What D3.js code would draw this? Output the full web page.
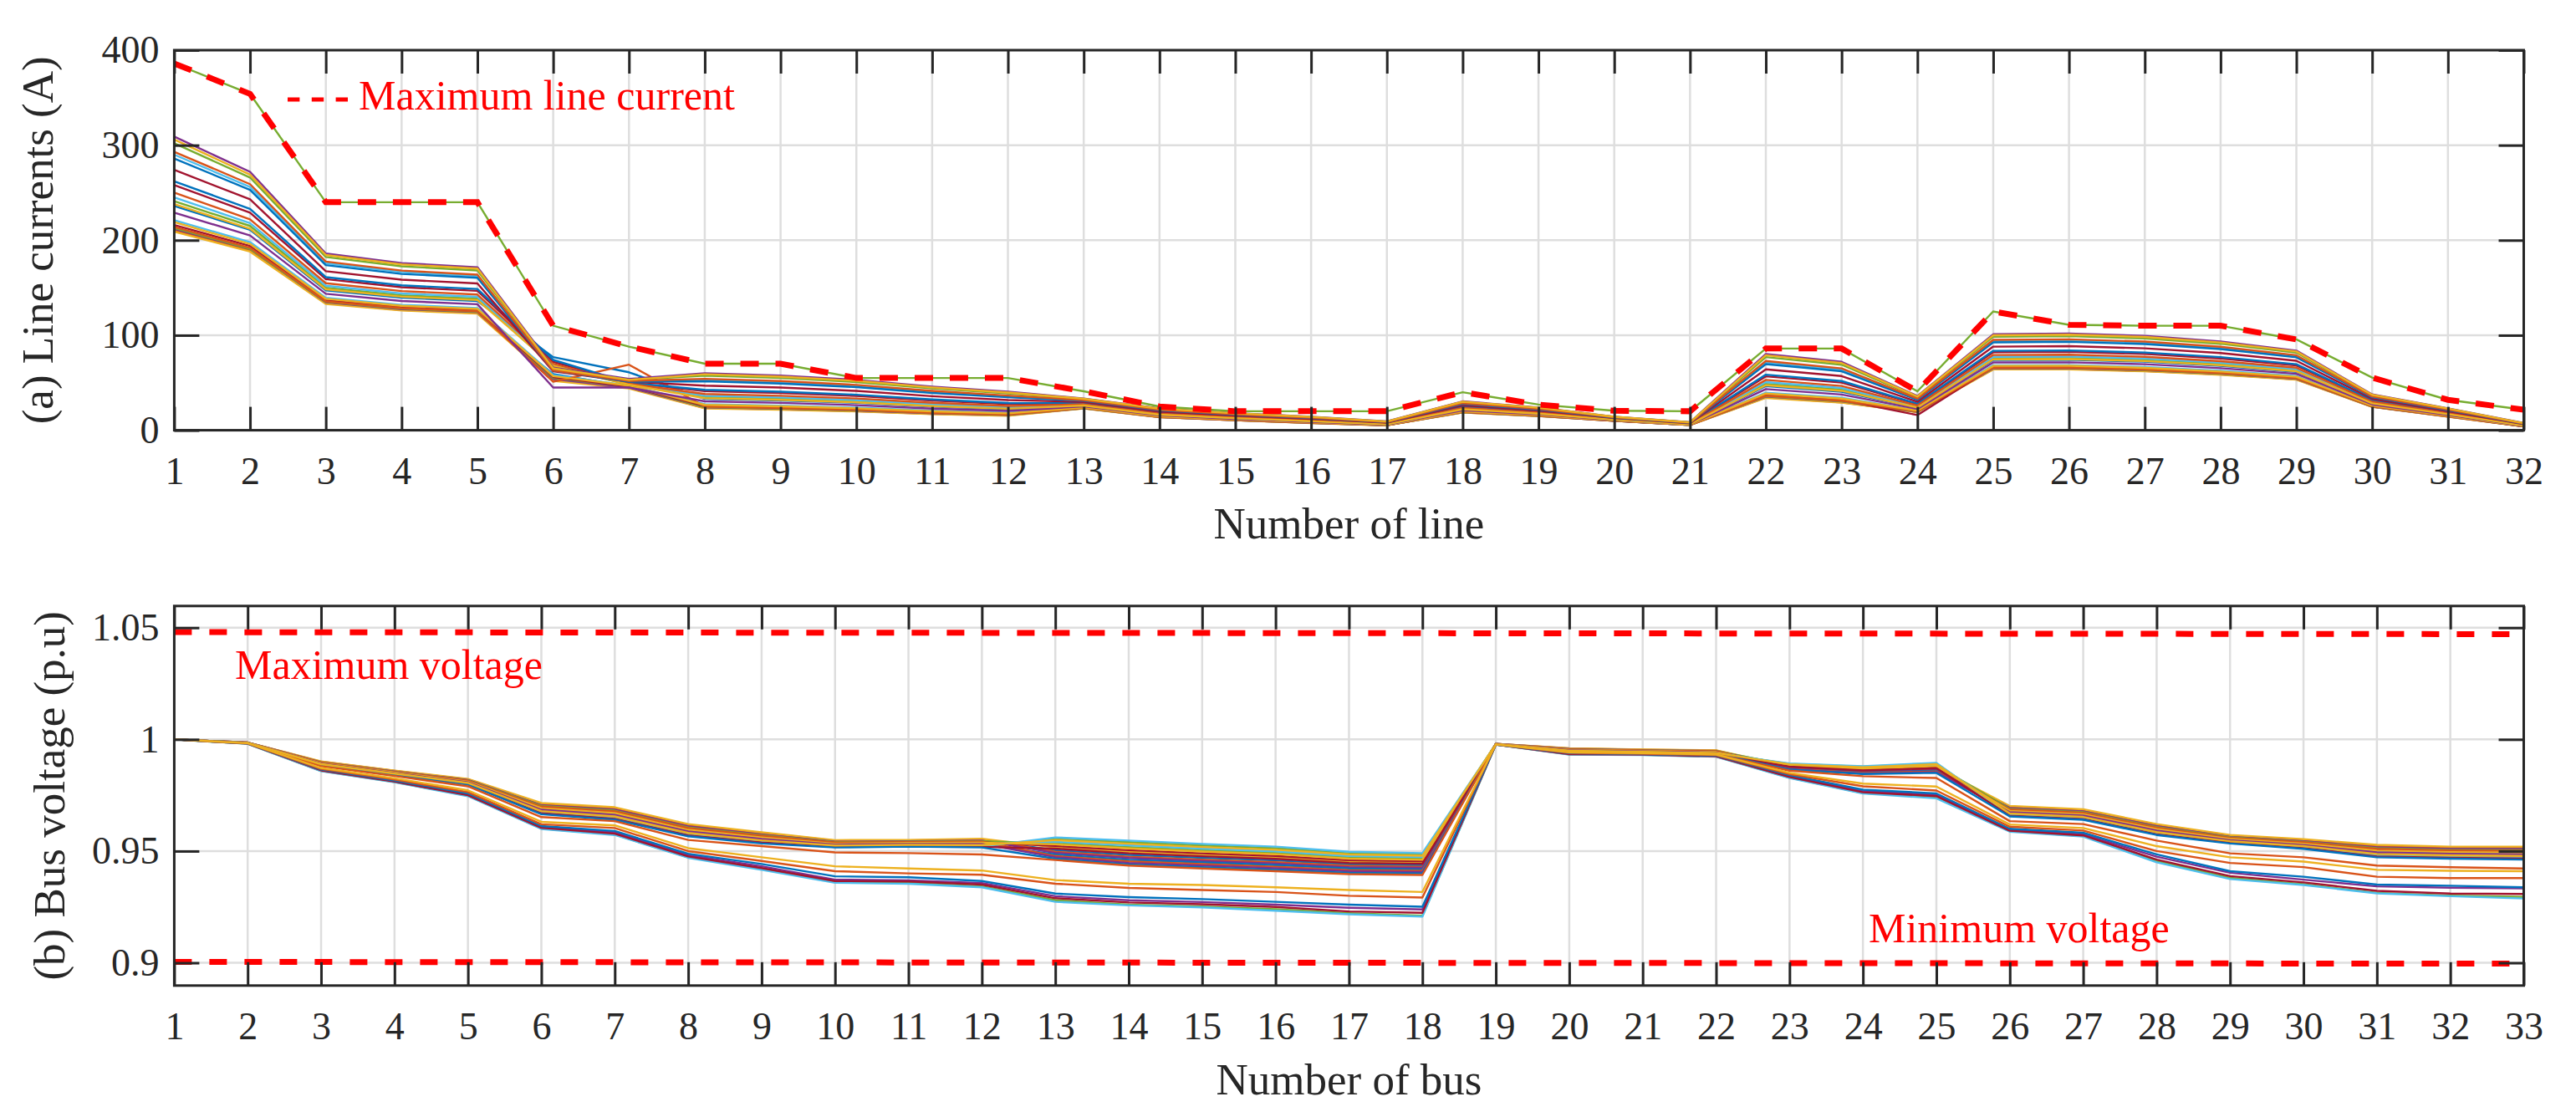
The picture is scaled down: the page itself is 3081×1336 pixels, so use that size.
<!DOCTYPE html>
<html>
<head>
<meta charset="utf-8">
<script src="https://cdn.jsdelivr.net/npm/d3@7"></script>
<style>
  body { margin: 0; background: #fff; }
  svg text { font-family: "Liberation Serif", "Times New Roman", serif; }
</style>
</head>
<body>
<div id="chart"></div>
<script>
/* line currents and bus voltages, 24 load cases */

// categories and ticks
var lineNumbers = d3.range(1, 33);
var busNumbers = d3.range(1, 34);
var currentTicks = [0, 100, 200, 300, 400];
var voltageTicks = [0.9, 0.95, 1, 1.05];

// MATLAB default colour order
var seriesColors = ["#0072BD", "#D95319", "#EDB120", "#7E2F8E", "#77AC30", "#4DBEEE", "#A2142F"];

// line currents (A), one row per load case
var currentSeries = [
  [211,190,134.1,127,123.8,59,46,23.7,22.3,20.5,17.6,15.8,23.2,13.9,10.6,7.7,5.3,18.9,15.1,10,5.6,34.9,29.9,19.3,64.7,64.8,62.7,59,53.9,24.9,14.5,4.1],
  [210,189,133.5,126.5,123.3,53,45,23.4,22,20.1,17.3,15.6,23.1,13.8,10.6,7.7,5.2,18.8,15,9.9,5.5,34.5,29.4,19.2,64.4,64.4,62.4,58.7,53.6,24.7,14.4,4],
  [209,188,133,126,122.8,52,44,23,21.6,19.8,17,15.3,23,13.7,10.5,7.6,5.2,18.7,14.9,9.9,5.5,34,29,19,64,64,62,58.3,53.3,24.6,14.3,4],
  [212,191,134.6,127.5,124.3,54,45,24.1,22.7,20.8,17.9,16.1,23.3,14,10.7,7.8,5.3,19.1,15.2,10,5.6,35.4,30.3,19.5,65.1,65.1,63.1,59.4,54.2,25,14.6,4.1],
  [213,191,135.1,128,124.8,55,46,24.5,23,21.1,18.2,16.3,23.4,14.1,10.8,7.9,5.4,19.2,15.3,10.1,5.6,35.9,30.7,19.7,65.5,65.5,63.5,59.7,54.5,25.1,14.7,4.2],
  [221,198,139.4,132,128.7,58,47,27.4,25.9,23.8,20.5,18.3,24.2,14.8,11.4,8.4,5.7,20.1,16,10.4,5.8,39.6,34.2,21,68.4,68.5,66.5,62.5,57,26.2,15.4,4.4],
  [216,194,136.7,129.5,126.2,56,46,25.6,24.1,22.1,19,17.1,23.7,14.4,11,8.1,5.5,19.5,15.5,10.2,5.7,37.2,32,16,66.6,66.6,64.6,60.8,55.4,25.5,14.9,4.3],
  [236,211,147.3,139.5,136,77,61,33,31.3,28.8,24.8,22.1,25.8,16.2,12.5,9.4,6.3,21.9,17.4,11.1,6.3,46.5,40.6,23.6,74,74.2,72.1,67.8,61.5,28.1,16.7,5],
  [214,192,135.6,128.5,125.2,51,69,24.9,23.4,21.5,18.4,16.6,23.5,14.2,10.9,7.9,5.4,19.3,15.4,10.1,5.6,36.3,31.1,19.8,65.9,65.9,63.9,60.1,54.8,25.3,14.7,4.2],
  [219,196,138.3,131,127.7,57,47,26.7,25.2,23.1,19.9,17.8,24,14.6,11.2,8.3,5.6,19.9,15.8,10.3,5.8,38.6,33.3,20.7,67.7,67.8,65.7,61.8,56.3,25.9,15.2,4.4],
  [229,205,143.6,136,132.6,45,45,30.4,28.8,26.4,22.8,20.3,25.1,15.6,12,8.9,6,21,16.7,10.8,6.1,43.3,37.6,22.4,71.4,71.5,69.5,65.3,59.4,27.2,16.1,4.7],
  [241,215,150,142,138.4,67,48,34.8,33.1,30.4,26.3,23.4,26.3,16.7,12.9,9.7,6.5,22.4,17.8,11.3,6.4,48.8,42.8,24.4,75.8,76.1,73.9,69.6,63.1,28.8,17.1,5.2],
  [245,218,152.1,144,140.4,69,49,36.3,34.5,31.8,27.4,24.4,26.7,17,13.2,10,6.7,22.9,18.2,11.5,6.5,50.7,44.5,25.1,77.3,77.6,75.4,71,64.3,29.3,17.5,5.3],
  [258,229,159,150.5,146.7,72,50,41.1,39.2,36.1,31.2,27.6,28.1,18.3,14.2,10.9,7.2,24.4,19.4,12.1,6.9,56.7,50.1,27.3,82.1,82.5,80.3,75.5,68.2,31,18.6,5.8],
  [262,233,161.1,152.5,148.7,74,50,42.6,40.6,37.4,32.4,28.7,28.5,18.6,14.5,11.2,7.4,24.9,19.7,12.2,7,58.5,51.8,28,83.6,84,81.8,77,69.5,31.5,19,5.9],
  [250,222,154.7,146.5,142.8,70,49,38.2,36.3,33.4,28.9,25.6,27.3,17.5,13.6,10.3,6.9,23.5,18.6,11.7,6.7,53,46.6,26,79.2,79.5,77.3,72.7,65.8,30,17.9,5.5],
  [238,212,148.4,140.5,137,68,48,33.7,32,29.4,25.4,22.6,26,16.4,12.7,9.5,6.4,22.1,17.5,11.2,6.3,47.4,41.5,23.9,74.7,74.9,72.8,68.5,62.1,28.4,16.9,5],
  [309,272,186,176,171.6,66,54,60,57.5,53,46,40.5,33.4,23,18,14.3,9.3,30.4,24,14.3,8.4,80.3,72,36,101,101.7,99.3,93.5,83.8,37.7,23.1,7.6],
  [302,266,182.3,172.5,168.2,65,53,57.4,55,50.7,44,38.7,32.7,22.3,17.5,13.8,9,29.6,23.4,14,8.2,77,69,34.8,98.4,99.1,96.7,91,81.7,36.8,22.5,7.3],
  [290,256,175.9,166.5,162.3,64,52,53,50.7,46.7,40.5,35.7,31.4,21.2,16.6,13,8.5,28.2,22.3,13.5,7.8,71.5,63.8,32.8,94,94.5,92.2,86.8,78,35.2,21.4,6.9],
  [274,243,167.4,158.5,154.5,62,51,47,44.9,41.4,35.8,31.7,29.8,19.7,15.4,12,7.9,26.3,20.8,12.8,7.4,64.1,57,30,88,88.5,86.2,81.2,73.1,33.1,20,6.3],
  [286,253,173.8,164.5,160.4,63,51,51.5,49.2,45.4,39.3,34.7,31,20.9,16.3,12.8,8.4,27.7,21.9,13.3,7.7,69.6,62.1,32.1,92.5,93,90.7,85.4,76.8,34.7,21.1,6.8],
  [293,259,177.5,168,163.8,63,52,54.1,51.8,47.7,41.4,36.5,31.7,21.5,16.8,13.2,8.6,28.5,22.5,13.6,7.9,72.9,65.1,33.3,95.1,95.7,93.3,87.9,78.9,35.6,21.7,7],
  [306,269,184.4,174.5,170.1,65,53,58.9,56.4,52,45.1,39.7,33.1,22.7,17.8,14.1,9.2,30,23.7,14.2,8.3,78.9,70.7,35.5,99.9,100.6,98.2,92.4,82.9,37.3,22.8,7.5]
];

// maximum line current (A)
var maxLineCurrent = [386,354,240,240,240,110,88,70,70,55,55,55,41,25,20,20,20,40,27,20.5,20,86,86,41,125,111,110,110,95.6,55.4,32,21.6];

// bus voltages (p.u), same load cases
var voltageSeries = [
  [1,0.9986,0.9899,0.9858,0.9820,0.9709,0.9689,0.9614,0.9578,0.9545,0.9546,0.9550,0.9504,0.9483,0.9470,0.9458,0.9441,0.9436,0.9980,0.9958,0.9953,0.9949,0.9876,0.9859,0.9868,0.9696,0.9681,0.9615,0.9567,0.9547,0.9521,0.9513,0.9512],
  [1,0.9986,0.9900,0.9859,0.9821,0.9712,0.9692,0.9617,0.9581,0.9547,0.9548,0.9552,0.9497,0.9475,0.9462,0.9450,0.9434,0.9430,0.9980,0.9959,0.9954,0.9950,0.9874,0.9857,0.9865,0.9699,0.9684,0.9618,0.9569,0.9550,0.9524,0.9516,0.9516],
  [1,0.9986,0.9901,0.9860,0.9823,0.9715,0.9696,0.9621,0.9584,0.9549,0.9550,0.9555,0.9516,0.9497,0.9483,0.9471,0.9453,0.9448,0.9980,0.9960,0.9955,0.9951,0.9879,0.9864,0.9874,0.9702,0.9687,0.9621,0.9572,0.9553,0.9528,0.9520,0.9520],
  [1,0.9986,0.9898,0.9856,0.9818,0.9705,0.9685,0.9610,0.9574,0.9542,0.9544,0.9547,0.9492,0.9469,0.9456,0.9444,0.9428,0.9425,0.9980,0.9957,0.9952,0.9948,0.9872,0.9854,0.9862,0.9693,0.9678,0.9611,0.9564,0.9544,0.9517,0.9509,0.9508],
  [1,0.9985,0.9897,0.9855,0.9816,0.9702,0.9681,0.9606,0.9571,0.9540,0.9542,0.9544,0.9535,0.9518,0.9504,0.9492,0.9472,0.9466,0.9979,0.9956,0.9951,0.9947,0.9885,0.9871,0.9883,0.9689,0.9674,0.9608,0.9562,0.9541,0.9513,0.9505,0.9504],
  [1,0.9985,0.9893,0.9850,0.9810,0.9689,0.9666,0.9592,0.9558,0.9532,0.9534,0.9534,0.9542,0.9526,0.9511,0.9499,0.9478,0.9473,0.9979,0.9952,0.9947,0.9943,0.9887,0.9873,0.9886,0.9677,0.9662,0.9595,0.9552,0.9530,0.9498,0.9491,0.9489],
  [1,0.9985,0.9895,0.9853,0.9813,0.9695,0.9674,0.9599,0.9564,0.9536,0.9538,0.9539,0.9523,0.9504,0.9490,0.9478,0.9459,0.9455,0.9979,0.9954,0.9949,0.9945,0.9881,0.9866,0.9877,0.9683,0.9668,0.9601,0.9557,0.9536,0.9506,0.9498,0.9497],
  [1,0.9985,0.9890,0.9848,0.9806,0.9682,0.9658,0.9584,0.9551,0.9527,0.9530,0.9529,0.9485,0.9461,0.9449,0.9437,0.9422,0.9418,0.9979,0.9950,0.9945,0.9940,0.9870,0.9852,0.9859,0.9671,0.9656,0.9588,0.9547,0.9524,0.9490,0.9484,0.9481],
  [1,0.9985,0.9896,0.9854,0.9815,0.9699,0.9678,0.9603,0.9568,0.9538,0.9540,0.9542,0.9478,0.9454,0.9442,0.9430,0.9415,0.9412,0.9979,0.9955,0.9950,0.9946,0.9869,0.9850,0.9856,0.9686,0.9671,0.9605,0.9559,0.9539,0.9510,0.9502,0.9501],
  [1,0.9985,0.9893,0.9852,0.9811,0.9692,0.9670,0.9595,0.9561,0.9533,0.9536,0.9537,0.9530,0.9512,0.9498,0.9486,0.9466,0.9461,0.9979,0.9953,0.9948,0.9943,0.9883,0.9868,0.9880,0.9680,0.9665,0.9598,0.9554,0.9533,0.9502,0.9495,0.9493],
  [1,0.9985,0.9891,0.9849,0.9808,0.9685,0.9662,0.9588,0.9554,0.9529,0.9532,0.9532,0.9473,0.9447,0.9435,0.9423,0.9410,0.9406,0.9979,0.9951,0.9946,0.9941,0.9867,0.9847,0.9853,0.9674,0.9659,0.9592,0.9549,0.9527,0.9494,0.9488,0.9485],
  [1,0.9984,0.9888,0.9846,0.9803,0.9675,0.9651,0.9577,0.9544,0.9523,0.9526,0.9524,0.9554,0.9540,0.9525,0.9513,0.9490,0.9485,0.9978,0.9948,0.9943,0.9938,0.9890,0.9878,0.9892,0.9664,0.9649,0.9582,0.9542,0.9519,0.9483,0.9477,0.9474],
  [1,0.9984,0.9887,0.9844,0.9801,0.9672,0.9647,0.9573,0.9541,0.9520,0.9524,0.9521,0.9561,0.9547,0.9532,0.9520,0.9497,0.9491,0.9978,0.9947,0.9942,0.9937,0.9892,0.9880,0.9895,0.9661,0.9646,0.9578,0.9539,0.9516,0.9479,0.9473,0.9470],
  [1,0.9984,0.9886,0.9843,0.9800,0.9669,0.9644,0.9570,0.9538,0.9518,0.9522,0.9519,0.9511,0.9490,0.9477,0.9465,0.9447,0.9443,0.9978,0.9946,0.9941,0.9936,0.9878,0.9861,0.9871,0.9658,0.9643,0.9575,0.9537,0.9513,0.9476,0.9470,0.9466],
  [1,0.9984,0.9885,0.9842,0.9798,0.9665,0.9640,0.9566,0.9534,0.9516,0.9520,0.9516,0.9466,0.9440,0.9428,0.9416,0.9403,0.9400,0.9978,0.9945,0.9940,0.9935,0.9865,0.9845,0.9850,0.9655,0.9640,0.9572,0.9534,0.9510,0.9472,0.9466,0.9462],
  [1,0.9983,0.9880,0.9836,0.9790,0.9652,0.9634,0.9550,0.9522,0.9494,0.9491,0.9485,0.9460,0.9435,0.9422,0.9410,0.9397,0.9393,0.9978,0.9943,0.9939,0.9933,0.9860,0.9835,0.9827,0.9634,0.9621,0.9547,0.9490,0.9472,0.9435,0.9428,0.9422],
  [1,0.9985,0.9889,0.9847,0.9805,0.9679,0.9655,0.9581,0.9548,0.9525,0.9528,0.9527,0.9549,0.9533,0.9518,0.9506,0.9485,0.9479,0.9979,0.9949,0.9944,0.9939,0.9888,0.9875,0.9889,0.9668,0.9653,0.9585,0.9544,0.9522,0.9487,0.9481,0.9478],
  [1,0.9981,0.9863,0.9813,0.9754,0.9608,0.9584,0.9482,0.9432,0.9372,0.9369,0.9357,0.9298,0.9280,0.9272,0.9260,0.9246,0.9239,0.9977,0.9936,0.9933,0.9926,0.9836,0.9768,0.9752,0.9595,0.9575,0.9475,0.9403,0.9372,0.9342,0.9336,0.9333],
  [1,0.9980,0.9859,0.9809,0.9748,0.9601,0.9574,0.9472,0.9419,0.9362,0.9358,0.9342,0.9280,0.9260,0.9252,0.9240,0.9222,0.9211,0.9977,0.9933,0.9931,0.9923,0.9829,0.9760,0.9740,0.9589,0.9567,0.9456,0.9380,0.9352,0.9313,0.9301,0.9295],
  [1,0.9980,0.9858,0.9808,0.9746,0.9599,0.9572,0.9470,0.9416,0.9358,0.9354,0.9338,0.9273,0.9257,0.9248,0.9233,0.9217,0.9207,0.9977,0.9932,0.9930,0.9922,0.9827,0.9758,0.9736,0.9587,0.9565,0.9450,0.9375,0.9348,0.9311,0.9298,0.9288],
  [1,0.9981,0.9861,0.9811,0.9750,0.9604,0.9578,0.9476,0.9424,0.9366,0.9364,0.9350,0.9289,0.9270,0.9262,0.9250,0.9230,0.9224,0.9977,0.9934,0.9932,0.9924,0.9832,0.9763,0.9746,0.9591,0.9570,0.9462,0.9388,0.9360,0.9322,0.9310,0.9308],
  [1,0.9982,0.9865,0.9816,0.9758,0.9612,0.9590,0.9488,0.9442,0.9387,0.9383,0.9366,0.9310,0.9294,0.9285,0.9273,0.9260,0.9251,0.9977,0.9938,0.9934,0.9928,0.9840,0.9775,0.9758,0.9600,0.9582,0.9485,0.9410,0.9385,0.9350,0.9345,0.9338],
  [1,0.9982,0.9868,0.9820,0.9764,0.9620,0.9603,0.9500,0.9456,0.9410,0.9400,0.9394,0.9354,0.9335,0.9326,0.9317,0.9300,0.9292,0.9978,0.9940,0.9936,0.9930,0.9845,0.9790,0.9771,0.9609,0.9592,0.9500,0.9447,0.9428,0.9385,0.9379,0.9379],
  [1,0.9983,0.9872,0.9826,0.9772,0.9631,0.9615,0.9513,0.9472,0.9432,0.9422,0.9413,0.9370,0.9354,0.9348,0.9338,0.9326,0.9317,0.9978,0.9942,0.9938,0.9932,0.9850,0.9802,0.9789,0.9619,0.9603,0.9522,0.9472,0.9453,0.9416,0.9412,0.9410]
];

// voltage limits (p.u) at first and last bus
var limitBuses = [1, 33];
var maxVoltage = [1.048, 1.0471];
var minVoltage = [0.9004, 0.8996];

// LAYOUT
var width = 3081, height = 1336;
var plotLeft = 208.4, plotRight = 3018.5;
var top1 = 60, bottom1 = 514.6;
var top2 = 724.8, bottom2 = 1178.8;
var axisColor = "#262626";

var svg = d3.select("#chart").append("svg")
    .attr("width", width)
    .attr("height", height)
    .style("background", "#fff");

var x1 = d3.scaleLinear().domain([1, 32]).range([plotLeft, plotRight]);
var y1 = d3.scaleLinear().domain([0, 400]).range([bottom1, top1]);
var x2 = d3.scaleLinear().domain([1, 33]).range([plotLeft, plotRight]);
var y2 = d3.scaleLinear().domain([0.8898, 1.0597]).range([bottom2, top2]);

function drawGrid(g, x, y, xTicks, yTicks, top, bottom) {
  g.selectAll(".vgrid").data(xTicks).enter().append("line")
    .attr("x1", function (d) { return x(d); })
    .attr("x2", function (d) { return x(d); })
    .attr("y1", top).attr("y2", bottom)
    .style("stroke", "#dedede").style("stroke-width", 2.5);
  g.selectAll(".hgrid").data(yTicks).enter().append("line")
    .attr("x1", plotLeft).attr("x2", plotRight)
    .attr("y1", function (d) { return y(d); })
    .attr("y2", function (d) { return y(d); })
    .style("stroke", "#dedede").style("stroke-width", 2.5);
}

function styleAxis(sel) {
  sel.select(".domain").remove();
  sel.selectAll(".tick line").style("stroke", axisColor).style("stroke-width", 3);
  sel.selectAll(".tick text")
    .attr("font-size", "46px")
    .attr("font-family", "Liberation Serif, Times New Roman, serif")
    .style("fill", axisColor);
}

function drawAxes(g, x, y, xTicks, yTicks, top, bottom, yFormat) {
  g.append("g")
    .attr("transform", "translate(0," + bottom + ")")
    .call(d3.axisBottom(x).tickValues(xTicks).tickSize(-28).tickSizeOuter(0).tickPadding(32).tickFormat(d3.format("d")))
    .call(styleAxis);
  g.append("g")
    .attr("transform", "translate(0," + top + ")")
    .call(d3.axisTop(x).tickValues(xTicks).tickSize(-28).tickSizeOuter(0).tickFormat(""))
    .call(styleAxis);
  g.append("g")
    .attr("transform", "translate(" + plotLeft + ",0)")
    .call(d3.axisLeft(y).tickValues(yTicks).tickSize(-30).tickSizeOuter(0).tickPadding(18).tickFormat(yFormat))
    .call(styleAxis);
  g.append("g")
    .attr("transform", "translate(" + plotRight + ",0)")
    .call(d3.axisRight(y).tickValues(yTicks).tickSize(-30).tickSizeOuter(0).tickFormat(""))
    .call(styleAxis);
  g.append("rect")
    .attr("x", plotLeft).attr("y", top)
    .attr("width", plotRight - plotLeft).attr("height", bottom - top)
    .style("fill", "none").style("stroke", axisColor).style("stroke-width", 3);
}

// PANEL (a): line currents
var g1 = svg.append("g");
drawGrid(g1, x1, y1, lineNumbers, currentTicks, top1, bottom1);

var currentLine = d3.line()
    .x(function (d, i) { return x1(lineNumbers[i]); })
    .y(function (d) { return y1(d); });

g1.selectAll(".current").data(currentSeries).enter().append("path")
    .attr("d", currentLine)
    .style("fill", "none")
    .style("stroke", function (d, i) { return seriesColors[i % 7]; })
    .style("stroke-width", 2.4)
    .style("stroke-linejoin", "round");

g1.append("path")
    .datum(maxLineCurrent)
    .attr("d", currentLine)
    .style("fill", "none")
    .style("stroke", "#77AC30")
    .style("stroke-width", 2.4);

g1.append("path")
    .datum(maxLineCurrent)
    .attr("d", currentLine)
    .style("fill", "none")
    .style("stroke", "#FF0000")
    .style("stroke-width", 7)
    .style("stroke-dasharray", "22,20");

drawAxes(g1, x1, y1, lineNumbers, currentTicks, top1, bottom1, d3.format("d"));

// legend of the maximum line current
svg.append("line")
    .attr("x1", 344).attr("x2", 416).attr("y1", 119).attr("y2", 119)
    .style("stroke", "#FF0000").style("stroke-width", 5)
    .style("stroke-dasharray", "14.4,14.4");
svg.append("text")
    .text("Maximum line current")
    .attr("x", 429).attr("y", 131)
    .attr("font-size", "50px")
    .style("fill", "#FF0000");

svg.append("text")
    .text("Number of line")
    .attr("x", (plotLeft + plotRight) / 2).attr("y", 644)
    .attr("text-anchor", "middle")
    .attr("font-size", "53px")
    .style("fill", axisColor);

svg.append("text")
    .text("(a) Line currents (A)")
    .attr("transform", "translate(63," + (top1 + bottom1) / 2 + ") rotate(-90)")
    .attr("text-anchor", "middle")
    .attr("font-size", "53px")
    .style("fill", axisColor);

// PANEL (b): bus voltages
var g2 = svg.append("g");
drawGrid(g2, x2, y2, busNumbers, voltageTicks, top2, bottom2);

var voltageLine = d3.line()
    .x(function (d, i) { return x2(busNumbers[i]); })
    .y(function (d) { return y2(d); });

g2.selectAll(".voltage").data(voltageSeries).enter().append("path")
    .attr("d", voltageLine)
    .style("fill", "none")
    .style("stroke", function (d, i) { return seriesColors[i % 7]; })
    .style("stroke-width", 2.4)
    .style("stroke-linejoin", "round");

var limitLine = d3.line()
    .x(function (d, i) { return x2(limitBuses[i]); })
    .y(function (d) { return y2(d); });

[maxVoltage, minVoltage].forEach(function (lim) {
  g2.append("path")
    .datum(lim)
    .attr("d", limitLine)
    .style("fill", "none")
    .style("stroke", "#FF0000")
    .style("stroke-width", 7)
    .style("stroke-dasharray", "21,21");
});

drawAxes(g2, x2, y2, busNumbers, voltageTicks, top2, bottom2, d3.format("~g"));

svg.append("text")
    .text("Maximum voltage")
    .attr("x", 281).attr("y", 811.5)
    .attr("font-size", "50px")
    .style("fill", "#FF0000");

svg.append("text")
    .text("Minimum voltage")
    .attr("x", 2235).attr("y", 1127)
    .attr("font-size", "50px")
    .style("fill", "#FF0000");

svg.append("text")
    .text("Number of bus")
    .attr("x", (plotLeft + plotRight) / 2).attr("y", 1308.5)
    .attr("text-anchor", "middle")
    .attr("font-size", "53px")
    .style("fill", axisColor);

svg.append("text")
    .text("(b) Bus voltage (p.u)")
    .attr("transform", "translate(77," + (top2 + bottom2) / 2 + ") rotate(-90)")
    .attr("text-anchor", "middle")
    .attr("font-size", "53px")
    .style("fill", axisColor);
</script>
</body>
</html>
